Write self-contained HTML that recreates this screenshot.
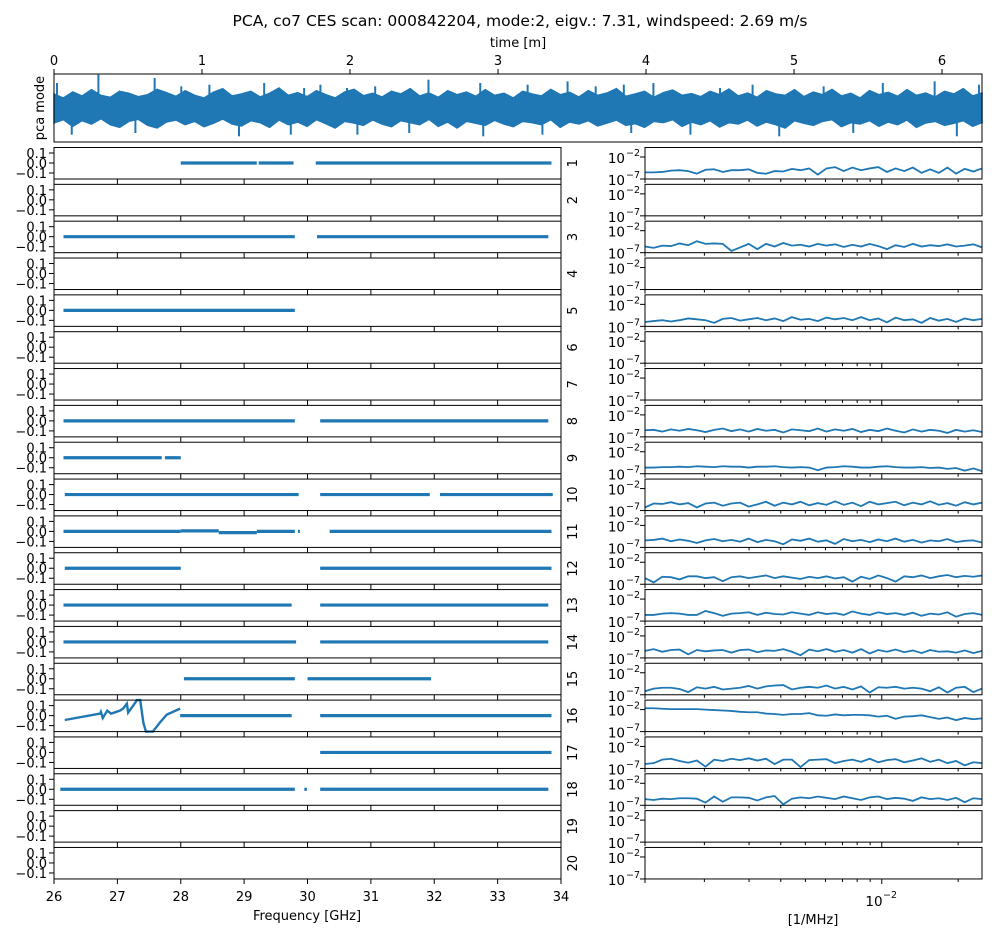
<!DOCTYPE html>
<html><head><meta charset="utf-8">
<style>
html,body{margin:0;padding:0;background:#fff;}
svg text{font-family:"DejaVu Sans","Liberation Sans",sans-serif;fill:#000;}
</style></head>
<body>
<svg id="chart" xmlns="http://www.w3.org/2000/svg" width="993" height="937" viewBox="0 0 993 937">
<rect width="993" height="937" fill="#fff"/>
<text x="520" y="26" font-size="15.5" text-anchor="middle">PCA, co7 CES scan: 000842204, mode:2, eigv.: 7.31, windspeed: 2.69 m/s</text>
<g id="g"></g>
</svg>
<script>
// ---- top time-series data (envelope + spikes) ----
var timeTicks = [0,1,2,3,4,5,6];
var bandUpper = [0.42,0.3,0.48,0.36,0.55,0.38,0.32,0.5,0.44,0.34,0.4,0.56,0.46,0.35,0.52,0.38,0.3,0.47,0.58,0.36,0.42,0.5,0.33,0.44,0.6,0.38,0.46,0.34,0.52,0.4,0.3,0.48,0.56,0.37,0.44,0.33,0.5,0.42,0.58,0.36,0.45,0.32,0.52,0.4,0.48,0.35,0.55,0.38,0.44,0.3,0.5,0.42,0.36,0.56,0.4,0.47,0.33,0.52,0.38,0.45,0.58,0.35,0.42,0.5,0.32,0.46,0.54,0.38,0.43,0.34,0.5,0.4,0.57,0.36,0.45,0.32,0.52,0.42,0.38,0.55,0.34,0.48,0.4,0.56,0.36,0.44,0.3,0.52,0.4,0.47,0.35,0.55,0.38,0.45,0.33,0.5,0.42,0.58,0.36,0.45];
var bandLower = [-0.45,-0.35,-0.55,-0.38,-0.48,-0.32,-0.5,-0.58,-0.4,-0.34,-0.52,-0.6,-0.42,-0.36,-0.5,-0.4,-0.56,-0.46,-0.33,-0.48,-0.54,-0.38,-0.44,-0.58,-0.36,-0.5,-0.42,-0.55,-0.35,-0.47,-0.6,-0.4,-0.45,-0.52,-0.36,-0.48,-0.56,-0.38,-0.44,-0.5,-0.34,-0.55,-0.42,-0.6,-0.4,-0.46,-0.52,-0.37,-0.48,-0.56,-0.4,-0.44,-0.5,-0.35,-0.58,-0.42,-0.48,-0.38,-0.54,-0.45,-0.36,-0.52,-0.47,-0.58,-0.4,-0.44,-0.35,-0.55,-0.42,-0.5,-0.38,-0.57,-0.44,-0.48,-0.36,-0.54,-0.42,-0.5,-0.6,-0.38,-0.46,-0.52,-0.4,-0.35,-0.56,-0.44,-0.48,-0.38,-0.55,-0.42,-0.5,-0.36,-0.58,-0.45,-0.4,-0.52,-0.46,-0.38,-0.55,-0.44];
var spikeT = [0.02,0.3,0.68,0.86,1.05,1.42,1.69,1.8,1.98,2.17,2.53,2.88,3.2,3.47,3.66,3.85,4.05,4.5,4.72,5.2,5.6,5.95,6.25,0.12,0.55,1.25,1.6,2.05,2.4,2.9,3.3,3.9,4.3,4.9,5.4,6.1];
var spikeV = [0.75,1.0,0.9,0.65,0.7,0.75,0.6,0.7,0.6,0.65,0.85,0.75,0.7,0.8,0.65,0.7,0.75,0.6,0.7,0.65,0.75,0.8,0.7,-0.8,-0.75,-0.85,-0.8,-0.8,-0.75,-0.85,-0.8,-0.75,-0.8,-0.85,-0.75,-0.85];

// ---- left panels: frequency segments [start GHz, end GHz, level] ----
var freqTicks = [26,27,28,29,30,31,32,33,34];
var ampTicks = [0.1,0.0,-0.1];
var segStart = {1:[28.0,29.23,30.13],3:[26.15,30.15],5:[26.15],8:[26.15,30.2],9:[26.15,27.75],10:[26.17,30.2,32.09],11:[26.15,28.0,28.6,29.2,29.85,30.35],12:[26.17,30.2],13:[26.15,30.2],14:[26.15,30.2],15:[28.05,30.0],16:[27.99,30.2],17:[30.2],18:[26.1,29.95,30.2]};
var segEnd   = {1:[29.2,29.78,33.85],3:[29.8,33.8],5:[29.8],8:[29.8,33.8],9:[27.7,28.0],10:[29.86,31.93,33.87],11:[28.0,28.6,29.2,29.8,29.88,33.85],12:[28.0,33.85],13:[29.75,33.8],14:[29.82,33.8],15:[29.8,31.95],16:[29.75,33.85],17:[33.85],18:[29.8,29.99,33.8]};
var segLevel = {1:[0,0,0],3:[0,0],5:[0,0],8:[0,0],9:[0,0],10:[0,0,0],11:[0,0.005,-0.012,0,0,0],12:[0,0],13:[0,0],14:[0,0],15:[0,0],16:[0,0],17:[0],18:[0,0,0]};
var curve16Freq = [26.17,26.73,26.74,26.77,26.84,26.9,27.04,27.09,27.15,27.17,27.25,27.31,27.36,27.41,27.45,27.56,27.67,27.78,27.99];
var curve16Amp  = [-0.044,0.02,0.036,-0.024,0.05,0.02,0.05,0.07,0.12,0.03,0.1,0.16,0.16,-0.07,-0.16,-0.16,-0.07,0.01,0.07];

// ---- right panels: log10 power spectra ----
var specLogMin = -2.933, specLogMax = -1.605;
var spec = {
1:[-5.5,-5.5,-5.4,-5.1,-5.0,-5.2,-5.8,-4.9,-4.8,-5.4,-5.0,-5.0,-4.8,-5.6,-5.8,-5.2,-5.3,-4.7,-5.0,-4.6,-6.0,-4.6,-4.3,-5.2,-4.4,-5.0,-4.6,-4.3,-5.4,-4.6,-5.2,-4.4,-5.6,-4.8,-5.6,-4.4,-5.8,-4.7,-5.3,-4.6],
3:[-5.6,-5.9,-5.4,-5.5,-4.9,-5.3,-4.4,-5.0,-4.9,-5.0,-6.6,-5.8,-5.0,-6.2,-5.0,-5.6,-4.8,-5.4,-5.2,-5.6,-5.0,-5.4,-5.1,-5.7,-5.2,-5.6,-5.0,-5.5,-6.2,-5.3,-5.7,-5.0,-5.6,-5.3,-5.5,-5.1,-5.6,-5.4,-5.1,-5.8],
5:[-6.0,-5.8,-5.6,-5.9,-5.6,-5.2,-5.4,-5.6,-6.2,-5.3,-5.1,-5.7,-5.4,-5.1,-5.6,-5.2,-5.8,-4.9,-5.5,-5.3,-5.8,-5.0,-5.4,-5.1,-5.6,-4.9,-5.6,-5.2,-6.1,-5.0,-5.6,-5.4,-6.2,-5.1,-5.7,-5.3,-6.0,-5.2,-5.6,-5.3],
8:[-5.5,-5.4,-5.8,-5.3,-5.6,-5.2,-5.5,-5.9,-5.4,-5.1,-5.7,-5.3,-5.8,-5.2,-5.6,-5.4,-6.0,-5.3,-5.5,-5.7,-5.1,-5.8,-5.3,-5.6,-5.2,-5.9,-5.4,-5.7,-5.1,-5.6,-6.0,-5.3,-5.8,-5.4,-5.6,-6.1,-5.4,-5.8,-5.5,-5.9],
9:[-5.6,-5.6,-5.5,-5.5,-5.4,-5.5,-5.3,-5.4,-5.5,-5.3,-5.4,-5.4,-5.6,-5.4,-5.4,-5.3,-5.5,-5.6,-5.5,-5.6,-6.2,-5.6,-5.5,-5.3,-5.4,-5.6,-5.6,-5.4,-5.3,-5.5,-5.6,-5.6,-5.5,-5.7,-5.6,-5.9,-5.7,-6.3,-5.8,-6.4],
10:[-6.3,-5.4,-5.5,-5.1,-5.6,-5.3,-6.3,-5.4,-5.2,-5.9,-5.4,-5.2,-6.1,-5.6,-5.0,-5.9,-5.2,-5.6,-5.0,-5.8,-5.3,-5.7,-4.9,-5.7,-5.2,-6.0,-5.0,-5.6,-5.3,-5.0,-5.8,-5.2,-5.6,-4.9,-5.7,-5.3,-5.9,-5.1,-5.6,-5.2],
11:[-5.4,-5.3,-5.0,-5.6,-5.2,-5.5,-6.0,-5.4,-5.1,-5.6,-5.3,-5.7,-5.0,-5.8,-5.3,-5.6,-6.3,-5.2,-5.5,-5.0,-5.7,-5.4,-6.2,-5.1,-5.6,-5.3,-5.8,-5.2,-5.6,-5.0,-5.7,-5.3,-5.9,-5.4,-5.6,-5.1,-5.8,-5.5,-5.4,-5.9],
12:[-5.6,-6.6,-5.3,-5.4,-5.9,-5.2,-5.2,-5.6,-5.4,-6.3,-5.4,-5.2,-5.6,-5.3,-5.0,-5.6,-5.2,-5.5,-5.8,-5.3,-5.6,-5.2,-5.7,-5.4,-6.4,-5.3,-5.8,-5.0,-5.6,-6.4,-5.2,-5.4,-5.0,-5.6,-5.2,-4.9,-5.4,-5.1,-5.3,-5.0],
13:[-5.6,-5.6,-5.3,-5.2,-5.3,-5.6,-5.6,-4.7,-5.2,-5.8,-5.3,-5.2,-5.0,-5.6,-5.1,-5.4,-5.5,-5.0,-5.3,-5.6,-5.0,-5.4,-5.2,-5.6,-4.8,-5.3,-5.6,-5.0,-5.4,-5.2,-5.6,-5.1,-5.8,-5.3,-5.5,-5.0,-6.0,-5.4,-5.2,-5.6],
14:[-5.4,-5.0,-5.6,-5.2,-5.1,-6.2,-5.2,-5.5,-5.3,-5.2,-5.8,-5.2,-5.1,-5.7,-5.3,-5.4,-5.0,-5.6,-6.4,-5.1,-5.5,-5.0,-5.6,-5.2,-5.8,-5.0,-6.0,-5.2,-5.6,-5.1,-5.7,-5.3,-5.9,-5.2,-5.6,-5.5,-5.8,-5.3,-5.9,-5.4],
15:[-6.2,-5.6,-5.4,-5.4,-5.7,-6.4,-5.3,-5.6,-5.2,-5.8,-5.6,-5.4,-5.0,-5.6,-5.1,-4.9,-4.8,-5.8,-5.4,-5.2,-5.4,-4.9,-5.6,-5.2,-5.8,-5.1,-6.5,-5.3,-5.4,-5.2,-5.6,-5.4,-5.6,-6.2,-5.3,-6.5,-5.4,-5.2,-6.4,-5.6],
16:[-1.7,-1.7,-1.8,-1.9,-1.9,-1.9,-1.9,-2.0,-2.1,-2.2,-2.3,-2.5,-2.6,-2.6,-2.9,-3.0,-3.2,-3.0,-3.0,-2.8,-3.3,-3.4,-3.1,-3.3,-3.2,-3.2,-3.3,-3.6,-3.4,-4.1,-3.6,-3.5,-3.3,-3.7,-4.1,-3.8,-4.4,-3.9,-4.2,-4.0],
17:[-6.0,-5.8,-5.0,-4.8,-5.3,-5.7,-5.2,-6.6,-5.0,-5.3,-4.8,-5.1,-4.7,-5.2,-4.8,-6.0,-5.0,-5.0,-6.7,-5.1,-5.0,-4.9,-5.8,-5.3,-5.0,-5.5,-4.8,-5.6,-5.1,-4.9,-5.6,-5.2,-4.7,-5.5,-5.0,-5.8,-5.3,-6.3,-5.6,-5.8],
18:[-5.6,-5.8,-5.5,-5.6,-5.4,-5.4,-5.5,-6.4,-5.0,-6.2,-5.2,-5.2,-5.3,-5.9,-5.2,-4.9,-6.8,-5.5,-5.2,-5.4,-5.0,-5.3,-5.6,-5.0,-5.4,-5.8,-5.2,-5.0,-5.6,-5.3,-5.5,-6.0,-5.2,-5.6,-5.4,-5.8,-5.3,-6.3,-5.4,-5.6]
};
var specMinorTicks = [2e-3,3e-3,4e-3,5e-3,6e-3,7e-3,8e-3,9e-3,1e-2,2e-2];

var NS="http://www.w3.org/2000/svg", G=document.getElementById('g');
var BLUE="#1f77b4";
function el(tag, attrs, parent){var e=document.createElementNS(NS,tag);for(var k in attrs)e.setAttribute(k,attrs[k]);(parent||G).appendChild(e);return e;}

// axis functions
var TX0=54,TX1=982,TT=74,TB=142;
function tx(t){return TX0+t*(TX1-TX0)/6.27;}
function ty(v){return (TT+TB)/2 - v*(TB-TT)/2*0.98;}
function fx(g){return 54+(g-26)*(561-54)/8;}
function panelTop(i){return 147.5+(i-1)*36.84;}
var PH=31.5;
function ay(i,v){return panelTop(i)+15.5 - v*100;}
function rx(f){return 645+(Math.log10(f)-specLogMin)*(982-645)/(specLogMax-specLogMin);}
function ry(i,lv){return panelTop(i)+PH-(lv+7)*4.4;}

// ---- top panel ----
var band=[], n=bandUpper.length;
for(var k=0;k<n;k++) band.push(tx(k*6.27/(n-1))+','+ty(bandUpper[k]));
for(var k=n-1;k>=0;k--) band.push(tx(k*6.27/(n-1))+','+ty(bandLower[k]));
var bp=el('polygon',{points:band.join(' '),fill:BLUE,stroke:BLUE,'stroke-width':1.5,'stroke-linejoin':'miter'});


for(var k=0;k<spikeT.length;k++){
  var sl=el('line',{x1:tx(spikeT[k]),x2:tx(spikeT[k]),y1:ty(0),y2:ty(spikeV[k]),stroke:BLUE,'stroke-width':2});
  
  
}
var tf=el('rect',{x:TX0,y:TT,width:TX1-TX0,height:TB-TT,fill:'none',stroke:'#000','stroke-width':1});


timeTicks.forEach(function(t){
  el('line',{x1:tx(t),x2:tx(t),y1:TT,y2:TT-5,stroke:'#000'});
  var lb=el('text',{x:tx(t),y:TT-9,'font-size':13,'text-anchor':'middle'});lb.textContent=t;
  
  
});
var tl=el('text',{x:518,y:47,'font-size':13,'text-anchor':'middle'});tl.textContent='time [m]';


var pl=el('text',{x:0,y:0,'font-size':13,'text-anchor':'middle',transform:'translate(44,108) rotate(-90)'});pl.textContent='pca mode';



// ---- panels ----
for(var i=1;i<=20;i++){
  var T=panelTop(i);
  if(segStart[i]){
    for(var s=0;s<segStart[i].length;s++){
      var ln=el('line',{x1:fx(segStart[i][s]),x2:fx(segEnd[i][s]),y1:ay(i,segLevel[i][s]),y2:ay(i,segLevel[i][s]),stroke:BLUE,'stroke-width':3.2});
      
      
    }
  }
  if(i===16){
    var pts=[];for(var k=0;k<curve16Freq.length;k++)pts.push(fx(curve16Freq[k])+','+Math.max(T,Math.min(T+PH,ay(16,curve16Amp[k]))));
    var cp=el('polyline',{points:pts.join(' '),fill:'none',stroke:BLUE,'stroke-width':2.4});
    
    
  }
  var lf=el('rect',{x:54,y:T,width:507,height:PH,fill:'none',stroke:'#000'});
  
  
  freqTicks.forEach(function(g){el('line',{x1:fx(g),x2:fx(g),y1:T+PH,y2:T+PH+5,stroke:'#000'});});
  ampTicks.forEach(function(v){
    el('line',{x1:54,x2:49,y1:ay(i,v),y2:ay(i,v),stroke:'#000'});
    var t=el('text',{x:47,y:ay(i,v)+5,'font-size':13,'text-anchor':'end'});t.textContent=(v<0?'\u22120.1':v.toFixed(1));
    
    
  });
  var fl=el('text',{x:0,y:0,'font-size':13,'text-anchor':'middle',transform:'translate(577,'+(T+PH/2)+') rotate(-90)'});fl.textContent=i;
  
  
  if(spec[i]){
    var arr=spec[i],sp=[];
    for(var k=0;k<arr.length;k++){var f=Math.pow(10,specLogMin+k*(specLogMax-specLogMin)/(arr.length-1));sp.push(rx(f)+','+ry(i,arr[k]));}
    var pp=el('polyline',{points:sp.join(' '),fill:'none',stroke:BLUE,'stroke-width':1.8});
    
    
  }
  var rf=el('rect',{x:645,y:T,width:337,height:PH,fill:'none',stroke:'#000'});
  
  
  el('line',{x1:645,x2:645,y1:T+PH,y2:T+PH+4,stroke:'#000'});
  specMinorTicks.forEach(function(f){if(rx(f)<982)el('line',{x1:rx(f),x2:rx(f),y1:T+PH,y2:T+PH+(f===1e-2?5:3),stroke:'#000'});});
  [-2,-7].forEach(function(lv){
    el('line',{x1:645,x2:640,y1:ry(i,lv),y2:ry(i,lv),stroke:'#000'});
    var t=el('text',{x:625,y:ry(i,lv)+6,'font-size':13.5,'text-anchor':'end'});t.textContent='10';
    
    
    var e=el('text',{x:626,y:ry(i,lv)-1,'font-size':9.5,'text-anchor':'start'});e.textContent='\u2212'+(-lv);
  });
}
freqTicks.forEach(function(g){
  var t=el('text',{x:fx(g),y:901,'font-size':13,'text-anchor':'middle'});t.textContent=g;
  
  
});
var xl=el('text',{x:307,y:920,'font-size':13,'text-anchor':'middle'});xl.textContent='Frequency [GHz]';


var rt=el('text',{x:874,y:906,'font-size':13.5,'text-anchor':'middle'});rt.textContent='10';


var re=el('text',{x:883,y:898,'font-size':9.5});re.textContent='\u22122';
var rl=el('text',{x:813,y:924,'font-size':13,'text-anchor':'middle'});rl.textContent='[1/MHz]';


</script>
</body></html>
